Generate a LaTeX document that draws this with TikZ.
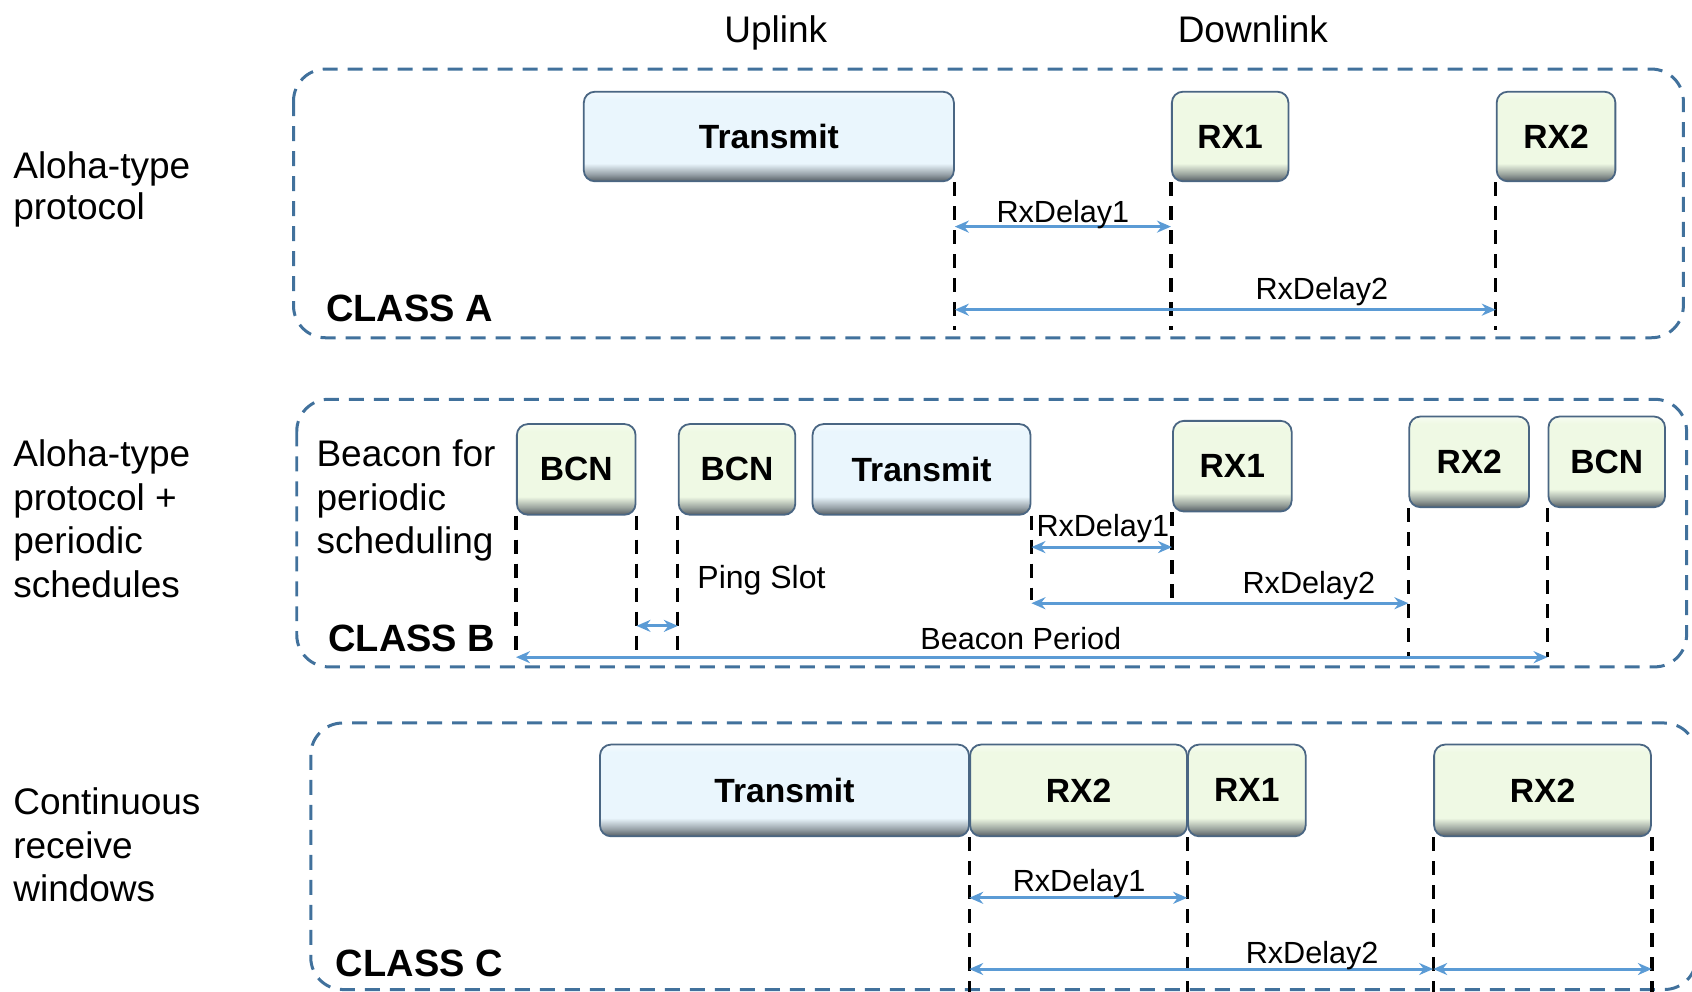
\documentclass[tikz,border=0pt]{standalone}
\usepackage{fontspec}
\setmainfont{Liberation Sans}
\usetikzlibrary{arrows.meta}
\definecolor{frameblue}{HTML}{41719C}
\definecolor{arrblue}{HTML}{5B9BD5}
\definecolor{txfill}{HTML}{EAF6FD}
\definecolor{rxfill}{HTML}{EFF9E4}
\definecolor{bshadow}{HTML}{555E64}
\definecolor{bborder}{HTML}{4A6683}
\colorlet{txtop}{white!50!txfill}
\colorlet{rxtop}{white!50!rxfill}
\colorlet{txmid}{bshadow!55!txfill}
\colorlet{rxmid}{bshadow!55!rxfill}
\pgfdeclareverticalshading{txshade}{100bp}{color(0bp)=(bshadow); color(25bp)=(bshadow); color(29bp)=(txmid); color(35bp)=(txfill); color(71bp)=(txfill); color(75bp)=(txtop); color(100bp)=(txtop)}
\pgfdeclareverticalshading{rxshade}{100bp}{color(0bp)=(bshadow); color(25bp)=(bshadow); color(29bp)=(rxmid); color(35bp)=(rxfill); color(71bp)=(rxfill); color(75bp)=(rxtop); color(100bp)=(rxtop)}
\tikzset{
  classframe/.style={draw=frameblue, line width=1.5pt, dash pattern=on 7.5pt off 5pt, rounded corners=16pt},
  wh/.style 2 args={minimum width=#1*0.5396pt, minimum height=#2*0.5396pt},
  txbox/.style={draw=bborder, line width=0.9pt, rounded corners=5.5pt, shade, shading=txshade, inner sep=0pt, font=\bfseries\fontsize{16.8}{20}\selectfont},
  rxbox/.style={txbox, shading=rxshade},
  guide/.style={draw=black, line width=1.6pt, dash pattern=on 7pt off 5pt},
  span/.style={draw=arrblue, line width=1.5pt, {Stealth[length=7pt,width=6pt]}-{Stealth[length=7pt,width=6pt]}},
  lbl/.style={font=\fontsize{15.3}{18}\selectfont, inner sep=0pt, anchor=base},
  hdr/.style={font=\fontsize{18.5}{22}\selectfont, inner sep=0pt, anchor=base},
  side/.style={align=left, anchor=north west, inner sep=0pt},
  cls/.style={font=\bfseries\fontsize{19}{22}\selectfont, anchor=base west, inner sep=0pt},
}
\begin{document}
\begin{tikzpicture}[x=0.5396pt, y=-0.5396pt]
\useasboundingbox (0,0) rectangle (1568,919);

% headers
\node[hdr] (up) at (719,39) {Uplink};
\node[hdr] (down) at (1161,39) {Downlink};

% side labels
\node[side, font=\fontsize{18.5}{20.8}\selectfont] (sA) at (12,140) {Aloha-type\\protocol};
\node[side, font=\fontsize{18.5}{21.9}\selectfont] (sB) at (12,407) {Aloha-type\\protocol +\\periodic\\schedules};
\node[side, font=\fontsize{18.5}{21.7}\selectfont] (sC) at (12,730) {Continuous\\receive\\windows};

% class frames
\draw[classframe] (272,64) rectangle (1560,313);
\draw[classframe] (275,370) rectangle (1563,618);
\draw[classframe] (288,670) rectangle (1572,917);

% ---------------- CLASS A ----------------
\node[txbox, wh={343}{83}] (txA) at (712.5,126.5) {Transmit};
\node[rxbox, wh={108}{83}] (rx1A) at (1140,126.5) {RX1};
\node[rxbox, wh={110}{83}] (rx2A) at (1442,126.5) {RX2};
\coordinate (botA) at (0,306);
\coordinate (a1) at (0,210);
\coordinate (a2) at (0,287);
\draw[guide] (txA.south east) -- (txA.south east |- botA);
\draw[guide] (rx1A.south west) -- (rx1A.south west |- botA);
\draw[guide] (rx2A.south west) -- (rx2A.south west |- botA);
\draw[span] (txA.south east |- a1) -- (rx1A.south west |- a1);
\draw[span] (txA.south east |- a2) -- (rx2A.south west |- a2);
\node[lbl] (lA1) at (985,206) {RxDelay1};
\node[lbl] (lA2) at (1225,278) {RxDelay2};
\node[cls] (cA) at (302,298) {CLASS A};

% ---------------- CLASS B ----------------
\node[side, font=\fontsize{18.5}{21.6}\selectfont] (bfor) at (293,407.5) {Beacon for\\periodic\\scheduling};
\node[rxbox, wh={110}{84}] (bcn1) at (534,435) {BCN};
\node[rxbox, wh={108}{84}] (bcn2) at (683,435) {BCN};
\node[txbox, wh={202}{84}] (txB) at (854,435) {Transmit};
\node[rxbox, wh={110}{84}] (rx1B) at (1142,432) {RX1};
\node[rxbox, wh={111}{84}] (rx2B) at (1361.5,428) {RX2};
\node[rxbox, wh={108}{84}] (bcn3) at (1489,428) {BCN};
\coordinate (bBP) at (0,609);
\coordinate (bPS) at (0,602);
\coordinate (bRX) at (0,556);
\coordinate (b1) at (0,507);
\coordinate (b2) at (0,559);
\coordinate (bps) at (0,580);
\draw[guide] (bcn1.south west) -- (bcn1.south west |- bBP);
\draw[guide] (bcn1.south east) -- (bcn1.south east |- bPS);
\draw[guide] (bcn2.south west) -- (bcn2.south west |- bPS);
\draw[guide] (txB.south east) -- (txB.south east |- bRX);
\draw[guide] (rx1B.south west) -- (rx1B.south west |- bRX);
\draw[guide] (rx2B.south west) -- (rx2B.south west |- bBP);
\draw[guide] (bcn3.south west) -- (bcn3.south west |- bBP);
\draw[span] (bcn1.south east |- bps) -- (bcn2.south west |- bps);
\draw[span] (txB.south east |- b1) -- (rx1B.south west |- b1);
\draw[span] (txB.south east |- b2) -- (rx2B.south west |- b2);
\draw[span] (bcn1.south west |- bBP) -- (bcn3.south west |- bBP);
\node[lbl, font=\fontsize{16}{18}\selectfont, anchor=base west] (lps) at (646,545) {Ping Slot};
\node[lbl] (lB1) at (1022,497) {RxDelay1};
\node[lbl] (lB2) at (1213,550) {RxDelay2};
\node[lbl] (lBP) at (946,602) {Beacon Period};
\node[cls] (cB) at (304,604) {CLASS B};

% ---------------- CLASS C ----------------
\node[txbox, wh={342}{85}] (txC) at (727,732.5) {Transmit};
\node[rxbox, wh={201}{85}] (rx2C) at (999.5,732.5) {RX2};
\node[rxbox, wh={109}{85}] (rx1C) at (1155.5,732.5) {RX1};
\node[rxbox, wh={201}{85}] (rx2Cb) at (1429.5,732.5) {RX2};
\coordinate (botC) at (0,919);
\coordinate (c1) at (0,832);
\coordinate (c2) at (0,898);
\draw[guide] (rx2C.south west) -- (rx2C.south west |- botC);
\draw[guide] (rx1C.south west) -- (rx1C.south west |- botC);
\draw[guide] (rx2Cb.south west) -- (rx2Cb.south west |- botC);
\draw[guide] (rx2Cb.south east) -- (rx2Cb.south east |- botC);
\draw[span] (rx2C.south west |- c1) -- (rx1C.south west |- c1);
\draw[span] (rx2C.south west |- c2) -- (rx2Cb.south west |- c2);
\draw[span] (rx2Cb.south west |- c2) -- (rx2Cb.south east |- c2);
\node[lbl] (lC1) at (1000,826) {RxDelay1};
\node[lbl] (lC2) at (1216,893) {RxDelay2};
\node[cls] (cC) at (311,905) {CLASS C};
\end{tikzpicture}
\end{document}
